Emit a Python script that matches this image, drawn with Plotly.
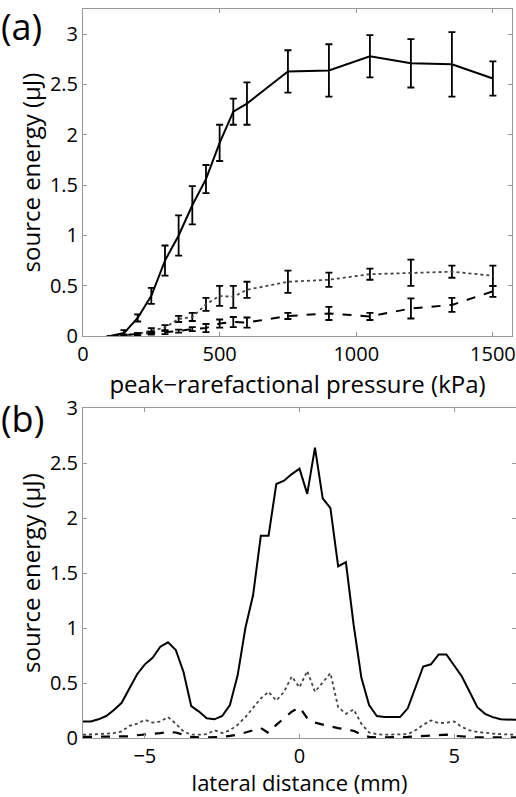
import plotly.graph_objects as go

# ---------------- Panel (a) data ----------------
pressure = [100, 150, 200, 250, 300, 350, 400, 450, 500, 550, 600, 750, 900, 1050, 1200, 1350, 1500]
solid_a = [0.0, 0.03, 0.18, 0.40, 0.75, 1.00, 1.30, 1.56, 1.92, 2.23, 2.31, 2.63, 2.64, 2.78, 2.71, 2.70, 2.56]
solid_a_err = [0.0, 0.03, 0.035, 0.08, 0.15, 0.20, 0.19, 0.14, 0.18, 0.13, 0.21, 0.21, 0.26, 0.21, 0.24, 0.32, 0.17]
dotted_a = [0.0, 0.01, 0.02, 0.055, 0.085, 0.17, 0.19, 0.315, 0.40, 0.39, 0.46, 0.54, 0.56, 0.615, 0.63, 0.64, 0.60]
dotted_a_err = [0.0, 0.005, 0.01, 0.025, 0.025, 0.03, 0.04, 0.065, 0.10, 0.11, 0.08, 0.11, 0.07, 0.055, 0.13, 0.06, 0.10]
dashed_a = [0.0, 0.01, 0.02, 0.03, 0.035, 0.05, 0.07, 0.08, 0.125, 0.14, 0.135, 0.20, 0.225, 0.195, 0.275, 0.31, 0.445]
dashed_a_err = [0.0, 0.005, 0.01, 0.015, 0.015, 0.015, 0.02, 0.04, 0.04, 0.05, 0.05, 0.03, 0.065, 0.035, 0.10, 0.07, 0.055]

# ---------------- Panel (b) data ----------------
lateral = [-7.0 + 0.25 * i for i in range(57)]
solid_b = [0.15, 0.15, 0.17, 0.20, 0.255, 0.32, 0.45, 0.58, 0.67, 0.73, 0.83, 0.87, 0.80, 0.60,
           0.29, 0.24, 0.18, 0.17, 0.20, 0.30, 0.57, 1.00, 1.30, 1.84, 1.84, 2.31, 2.34, 2.40,
           2.45, 2.22, 2.64, 2.18, 2.09, 1.56, 1.60, 1.03, 0.55, 0.30, 0.20, 0.19, 0.19, 0.19,
           0.27, 0.47, 0.65, 0.67, 0.76, 0.76, 0.66, 0.56, 0.42, 0.28, 0.22, 0.19, 0.17, 0.165, 0.165]
dotted_b = [0.03, 0.03, 0.035, 0.04, 0.045, 0.06, 0.11, 0.13, 0.165, 0.14, 0.15, 0.19, 0.13, 0.06,
            0.03, 0.03, 0.035, 0.07, 0.045, 0.07, 0.12, 0.19, 0.28, 0.36, 0.42, 0.34, 0.42, 0.56,
            0.46, 0.61, 0.42, 0.51, 0.59, 0.28, 0.22, 0.26, 0.13, 0.05, 0.035, 0.03, 0.03, 0.03,
            0.035, 0.07, 0.12, 0.16, 0.135, 0.14, 0.15, 0.10, 0.07, 0.055, 0.045, 0.04, 0.035, 0.03, 0.03]
dashed_b = [0.01, 0.01, 0.01, 0.01, 0.01, 0.01, 0.015, 0.025, 0.03, 0.04, 0.045, 0.055, 0.05, 0.03,
            0.01, 0.005, 0.005, 0.01, 0.01, 0.02, 0.03, 0.05, 0.07, 0.09, 0.045, 0.12, 0.18, 0.24,
            0.28, 0.18, 0.14, 0.12, 0.105, 0.09, 0.08, 0.065, 0.03, 0.01, 0.005, 0.005, 0.005, 0.005,
            0.01, 0.015, 0.02, 0.02, 0.025, 0.03, 0.02, 0.015, 0.005, 0.005, 0.005, 0.005, 0.005, 0.005, 0.005]

y_ticks = [0, 0.5, 1, 1.5, 2, 2.5, 3]
y_ticktext = ["0", "0.5", "1", "1.5", "2", "2.5", "3"]
xa_ticks = [0, 500, 1000, 1500]
xb_ticks = [-5, 0, 5]
xb_ticktext = ["\u22125", "0", "5"]

FONT = "Open Sans"

def err(arr):
    return dict(type="data", array=arr, visible=True, color="black", thickness=1.8, width=3.5)

fig = go.Figure()
fig.add_trace(go.Scatter(x=pressure, y=dotted_a, error_y=err(dotted_a_err), mode="lines",
                         line=dict(color="#444444", width=1.8, dash="dot"), xaxis="x", yaxis="y"))
fig.add_trace(go.Scatter(x=pressure, y=dashed_a, error_y=err(dashed_a_err), mode="lines",
                         line=dict(color="black", width=2, dash="dash"), xaxis="x", yaxis="y"))
fig.add_trace(go.Scatter(x=pressure, y=solid_a, error_y=err(solid_a_err), mode="lines",
                         line=dict(color="black", width=2), xaxis="x", yaxis="y"))

fig.add_trace(go.Scatter(x=lateral, y=dotted_b, mode="lines",
                         line=dict(color="#444444", width=1.8, dash="dot"), xaxis="x2", yaxis="y2"))
fig.add_trace(go.Scatter(x=lateral, y=dashed_b, mode="lines",
                         line=dict(color="black", width=2.2, dash="dash"), xaxis="x2", yaxis="y2"))
fig.add_trace(go.Scatter(x=lateral, y=solid_b, mode="lines",
                         line=dict(color="black", width=2), xaxis="x2", yaxis="y2"))

axis_common = dict(showline=True, linecolor="#999999", linewidth=1, mirror="ticks",
                   ticks="inside", ticklen=4, tickcolor="#999999", showgrid=False, zeroline=False,
                   automargin=False, ticklabeloverflow="allow",
                   tickfont=dict(family=FONT, size=20, color="black"),
                   title_font=dict(family=FONT, size=24, color="black"))

fig.update_layout(
    width=516, height=797,
    margin=dict(l=83, r=0, t=9, b=59),
    paper_bgcolor="white", plot_bgcolor="white",
    showlegend=False,
    xaxis=dict(domain=[0, 0.9908], anchor="y", range=[0, 1570], tickvals=xa_ticks,
               title=dict(text="peak\u2212rarefactional pressure (kPa)", standoff=2), **axis_common),
    yaxis=dict(domain=[0.5513, 1.0], anchor="x", range=[0, 3.25],
               tickvals=y_ticks, ticktext=y_ticktext,
               title=dict(text="source energy (\u03bcJ)", standoff=2), **axis_common),
    xaxis2=dict(domain=[0, 1.0], anchor="y2", range=[-7, 7], tickvals=xb_ticks,
                ticktext=xb_ticktext,
                title=dict(text="lateral distance (mm)", standoff=7,
                           font=dict(family=FONT, size=22, color="black")),
                **{k: v for k, v in axis_common.items() if k != "title_font"}),
    yaxis2=dict(domain=[0, 0.4525], anchor="x2", range=[0, 3],
                tickvals=y_ticks, ticktext=y_ticktext,
                title=dict(text="source energy (\u03bcJ)", standoff=2), **axis_common),
)

fig.add_annotation(text="(a)", xref="paper", yref="paper", x=-0.195, y=1.012, xanchor="left", yanchor="top",
                   showarrow=False, font=dict(family=FONT, size=36, color="black"))
fig.add_annotation(text="(b)", xref="paper", yref="paper", x=-0.195, y=0.4745, xanchor="left", yanchor="top",
                   showarrow=False, font=dict(family=FONT, size=36, color="black"))

fig.write_html("out.html")
